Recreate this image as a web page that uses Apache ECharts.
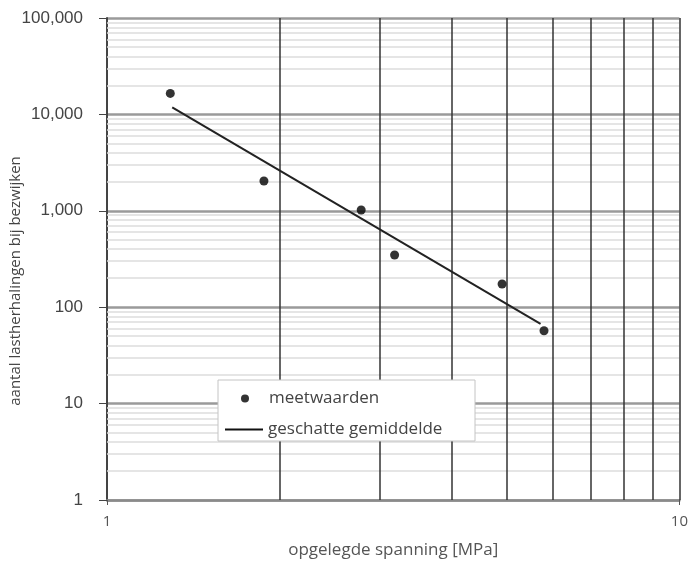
<!DOCTYPE html>
<html>
<head>
<meta charset="utf-8">
<script src="https://cdn.jsdelivr.net/npm/echarts@6/dist/echarts.min.js"></script>
<style>
  html, body { margin: 0; padding: 0; background: #fff; }
  #chart { width: 691px; height: 565px; }
</style>
</head>
<body>
<div id="chart"></div>
<script>
// meetwaarden (spanning MPa, aantal lastherhalingen)
var spanning = [1.29, 1.88, 2.78, 3.18, 4.9, 5.8];
var herhalingen = [16500, 2040, 1020, 348, 174, 57];

// geschatte gemiddelde (trendlijn, begin- en eindpunt)
var trendX = [1.3, 5.72];
var trendY = [11800, 67];

var decades = [1, 10, 100, 1000, 10000];
var multipliers = [2, 3, 4, 5, 6, 7, 8, 9];
var verticals = [2, 3, 4, 5, 6, 7, 8, 9, 10];

var textFont = '"Open Sans", sans-serif';
var numFont = '"Liberation Sans", Arial, sans-serif';

function buildGridLines() {
    var lines = [];
    decades.forEach(function (d) {
        multipliers.forEach(function (m) {
            lines.push({ yAxis: d * m, lineStyle: { color: '#dcdcdc', width: 1.5 } });
        });
    });
    verticals.forEach(function (v) {
        lines.push({ xAxis: v, lineStyle: { color: '#333', width: 1.5 } });
    });
    return lines;
}

var chart = echarts.init(document.getElementById('chart'));

var legendText = { fontFamily: textFont, fontSize: 17, color: '#444' };

var option = {
    animation: false,
    grid: { left: 107, right: 8, top: 18, bottom: 65 },
    graphic: [
        {
            type: 'rect',
            z: 20,
            shape: { x: 218, y: 380, width: 257, height: 61 },
            style: { fill: '#fff', stroke: '#c4c4c4', lineWidth: 1 }
        },
        {
            type: 'text',
            z: 20,
            x: 16,
            y: 281,
            rotation: Math.PI / 2,
            style: {
                text: 'aantal lastherhalingen bij bezwijken',
                fontFamily: textFont,
                fontSize: 15,
                fill: '#444',
                align: 'center',
                verticalAlign: 'middle'
            }
        }
    ],
    legend: [
        {
            data: [{ name: 'meetwaarden', icon: 'circle', itemStyle: { color: '#000' } }],
            left: 241,
            top: 390,
            padding: 0,
            itemWidth: 38,
            itemHeight: 8,
            z: 30,
            selectedMode: false,
            textStyle: legendText
        },
        {
            data: [{ name: 'geschatte gemiddelde', icon: 'rect', itemStyle: { color: '#111' } }],
            left: 225,
            top: 421,
            padding: 0,
            itemWidth: 38,
            itemHeight: 2,
            z: 30,
            selectedMode: false,
            textStyle: legendText
        }
    ],
    xAxis: {
        type: 'log',
        logBase: 10,
        min: 1,
        max: 10,
        name: 'opgelegde spanning [MPa]',
        nameLocation: 'middle',
        nameGap: 42,
        nameTextStyle: { fontFamily: textFont, fontSize: 17, color: '#555' },
        axisLine: { onZero: false, lineStyle: { color: '#8a8a8a', width: 2.5 } },
        axisTick: { show: true, length: 5, lineStyle: { color: '#555' } },
        axisLabel: { margin: 14, fontFamily: textFont, fontSize: 15, color: '#555' },
        splitLine: { show: false }
    },
    yAxis: {
        type: 'log',
        logBase: 10,
        min: 1,
        max: 100000,
        axisLine: { lineStyle: { color: '#444', width: 2 } },
        axisTick: { show: true, length: 8, lineStyle: { color: '#444' } },
        axisLabel: {
            margin: 24,
            fontFamily: numFont,
            fontSize: 17,
            color: '#444',
            formatter: function (v) { return Math.round(v).toLocaleString('en-US'); }
        },
        splitLine: { show: true, lineStyle: { color: '#9a9a9a', width: 2.5 } }
    },
    series: [
        {
            type: 'line',
            data: [],
            silent: true,
            markLine: {
                silent: true,
                z: 1,
                symbol: ['none', 'none'],
                label: { show: false },
                emphasis: { disabled: true },
                lineStyle: { type: 'solid' },
                data: buildGridLines()
            }
        },
        {
            name: 'geschatte gemiddelde',
            type: 'line',
            symbol: 'none',
            data: trendX.map(function (x, i) { return [x, trendY[i]]; }),
            lineStyle: { color: '#222', width: 2 },
            itemStyle: { color: '#222' },
            z: 5
        },
        {
            name: 'meetwaarden',
            type: 'scatter',
            symbol: 'circle',
            symbolSize: 9,
            data: spanning.map(function (x, i) { return [x, herhalingen[i]]; }),
            itemStyle: { color: '#000' },
            z: 6
        }
    ]
};

chart.setOption(option);
</script>
</body>
</html>
